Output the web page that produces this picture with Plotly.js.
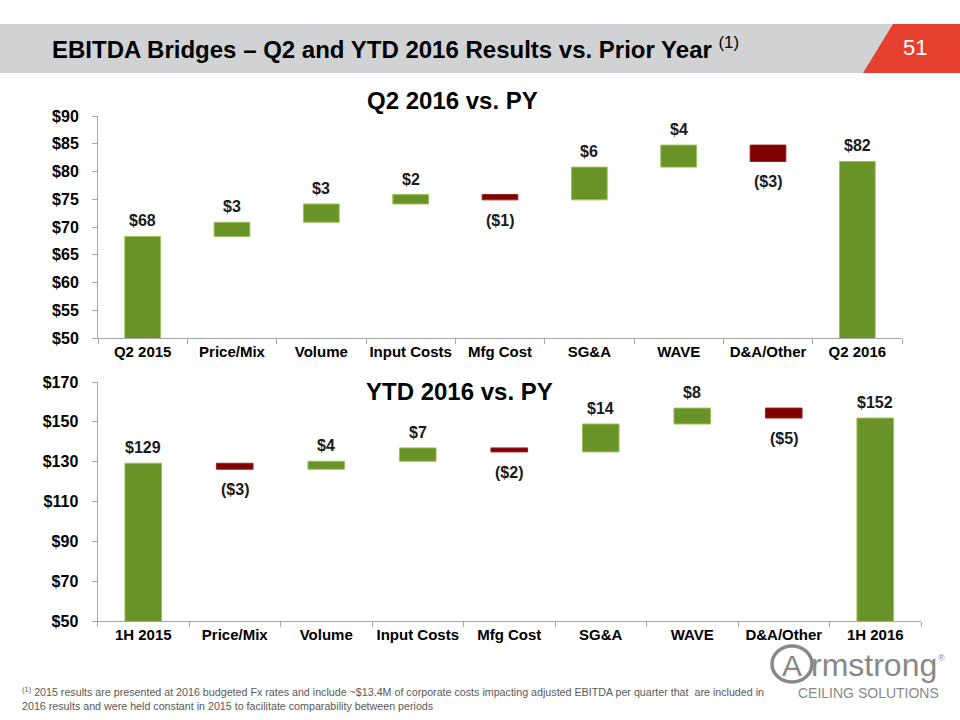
<!DOCTYPE html>
<html>
<head>
<meta charset="utf-8">
<script src="https://cdn.plot.ly/plotly-3.0.1.min.js"></script>
<style>
html,body{margin:0;padding:0;background:#fff;}
#chart{width:960px;height:720px;}
</style>
</head>
<body>
<div id="chart"></div>
<script>
// ---- Data ----
const q2Categories = ["Q2 2015","Price/Mix","Volume","Input Costs","Mfg Cost","SG&A","WAVE","D&A/Other","Q2 2016"];
const q2Values = [68.3, 2.55, 3.3, 1.7, -0.96, 5.9, 3.97, -2.95, 0];
const q2Measures = ["absolute","relative","relative","relative","relative","relative","relative","relative","total"];
const q2Labels = ["$68","$3","$3","$2","($1)","$6","$4","($3)","$82"];

const ytdCategories = ["1H 2015","Price/Mix","Volume","Input Costs","Mfg Cost","SG&A","WAVE","D&A/Other","1H 2016"];
const ytdValues = [129.2, -3, 4, 6.7, -2, 14, 8, -5, 0];
const ytdMeasures = ["absolute","relative","relative","relative","relative","relative","relative","relative","total"];
const ytdLabels = ["$129","($3)","$4","$7","($2)","$14","$8","($5)","$152"];

const q2YTicks = [50,55,60,65,70,75,80,85,90];
const q2YTickLabels = ["$50","$55","$60","$65","$70","$75","$80","$85","$90"];
const ytdYTicks = [50,70,90,110,130,150,170];
const ytdYTickLabels = ["$50","$70","$90","$110","$130","$150","$170"];

// ---- Styles ----
const FONT = "Liberation Sans, Arial, Helvetica, sans-serif";
const GREEN = "#6a9327";
const GREEN_LINE = "#9cc05a";
const RED = "#800000";
const AXIS = "#a6a6a6";
const LOGO = "#888888";

function wf(cats, vals, meas, xa, ya){
  return {
    type:"waterfall", x:cats, y:vals, measure:meas, xaxis:xa, yaxis:ya,
    connector:{visible:false},
    increasing:{marker:{color:GREEN, line:{color:GREEN_LINE, width:1}}},
    decreasing:{marker:{color:RED, line:{color:"#9a2020", width:1}}},
    totals:{marker:{color:GREEN, line:{color:GREEN_LINE, width:1}}},
    width:0.4, hoverinfo:"skip", showlegend:false, textinfo:"none"
  };
}

function labelAnns(cats, vals, meas, labels, xref, yref){
  const anns = [];
  let cum = 0;
  for (let i=0;i<cats.length;i++){
    let lo, hi, neg=false;
    if (meas[i]==="absolute"){ cum = vals[i]; lo=0; hi=cum; }
    else if (meas[i]==="total"){ lo=0; hi=cum; }
    else { const s=cum; cum+=vals[i]; lo=Math.min(s,cum); hi=Math.max(s,cum); neg = vals[i]<0; }
    anns.push({
      xref:xref, yref:yref, x:cats[i], y: neg?lo:hi,
      text:"<b>"+labels[i]+"</b>", showarrow:false,
      yanchor: neg?"top":"bottom", yshift: neg?-10:5,
      font:{family:FONT, size:16, color:"#1a1a1a"}
    });
  }
  return anns;
}

function yFrac(px){ return 1 - px/720; }
function xFrac(px){ return px/960; }

const axisCommon = {
  showgrid:false, zeroline:false, showline:true, linecolor:AXIS, linewidth:1,
  ticks:"outside", tickcolor:AXIS, ticklen:5, tickangle:0,
  tickfont:{family:FONT, size:15, color:"#000", weight:"bold"}
};

const layout = {
  width:960, height:720,
  margin:{l:0,r:0,t:0,b:0},
  paper_bgcolor:"#fff", plot_bgcolor:"rgba(0,0,0,0)",
  font:{family:FONT},
  xaxis: Object.assign({}, axisCommon, {
    domain:[xFrac(98), xFrac(902)], anchor:"y", type:"category", tickson:"boundaries",
    categoryorder:"array", categoryarray:q2Categories
  }),
  yaxis: Object.assign({}, axisCommon, {
    domain:[yFrac(338), yFrac(116)], anchor:"x", range:[50,90],
    tickmode:"array", tickvals:q2YTicks, ticktext:q2YTickLabels,
    ticklabelstandoff:10, tickfont:{family:FONT, size:16, color:"#000", weight:"bold"}
  }),
  xaxis2: Object.assign({}, axisCommon, {
    domain:[xFrac(97.5), xFrac(921)], anchor:"y2", type:"category", tickson:"boundaries",
    categoryorder:"array", categoryarray:ytdCategories
  }),
  yaxis2: Object.assign({}, axisCommon, {
    domain:[yFrac(621), yFrac(382)], anchor:"x2", range:[50,170],
    tickmode:"array", tickvals:ytdYTicks, ticktext:ytdYTickLabels,
    ticklabelstandoff:10, tickfont:{family:FONT, size:16, color:"#000", weight:"bold"}
  }),
  shapes:[
    {type:"rect", xref:"paper", yref:"paper", x0:0, x1:1, y0:yFrac(73), y1:yFrac(24),
     fillcolor:"#d1d2d4", line:{width:0}, layer:"below"},
    {type:"path", xref:"paper", yref:"paper",
     path:"M "+xFrac(893)+","+yFrac(24)+" L 1,"+yFrac(24)+" L 1,"+yFrac(73)+" L "+xFrac(863)+","+yFrac(73)+" Z",
     fillcolor:"#e6412f", line:{width:0}, layer:"below"},
    {type:"circle", xref:"paper", yref:"paper", x0:xFrac(772), x1:xFrac(812), y0:yFrac(682), y1:yFrac(646),
     line:{color:LOGO, width:3.5}, fillcolor:"rgba(0,0,0,0)"}
  ],
  annotations:[
    {xref:"paper", yref:"paper", x:xFrac(50), y:yFrac(48), xanchor:"left", yanchor:"middle", showarrow:false,
     text:"<b>EBITDA Bridges – Q2 and YTD 2016 Results vs. Prior Year</b> <sup>(1)</sup>",
     font:{family:FONT, size:24, color:"#000"}},
    {xref:"paper", yref:"paper", x:xFrac(915), y:yFrac(48), xanchor:"center", yanchor:"middle", showarrow:false,
     text:"51", font:{family:FONT, size:22, color:"#fff"}},
    {xref:"paper", yref:"paper", x:xFrac(452), y:yFrac(101), xanchor:"center", yanchor:"middle", showarrow:false,
     text:"<b>Q2 2016 vs. PY</b>", font:{family:FONT, size:24, color:"#000"}},
    {xref:"paper", yref:"paper", x:xFrac(459), y:yFrac(392), xanchor:"center", yanchor:"middle", showarrow:false,
     text:"<b>YTD 2016 vs. PY</b>", font:{family:FONT, size:24, color:"#000"}},
    {xref:"paper", yref:"paper", x:xFrac(20), y:yFrac(683), xanchor:"left", yanchor:"top", showarrow:false, align:"left",
     text:"<sup>(1)</sup> 2015 results are presented at 2016 budgeted Fx rates and include ~$13.4M of corporate costs impacting adjusted EBITDA per quarter that  are included in<br>2016 results and were held constant in 2015 to facilitate comparability between periods",
     font:{family:FONT, size:10.7, color:"#595959"}},
    {xref:"paper", yref:"paper", x:xFrac(792), y:yFrac(665), xanchor:"center", yanchor:"middle", showarrow:false,
     text:"A", font:{family:FONT, size:30, color:LOGO}},
    {xref:"paper", yref:"paper", x:xFrac(809), y:yFrac(665), xanchor:"left", yanchor:"middle", showarrow:false,
     text:"rmstrong", font:{family:FONT, size:32, color:LOGO}},
    {xref:"paper", yref:"paper", x:xFrac(941), y:yFrac(658), xanchor:"center", yanchor:"middle", showarrow:false,
     text:"®", font:{family:FONT, size:9, color:LOGO}},
    {xref:"paper", yref:"paper", x:xFrac(868), y:yFrac(693), xanchor:"center", yanchor:"middle", showarrow:false,
     text:"CEILING SOLUTIONS", font:{family:FONT, size:14, color:LOGO}}
  ].concat(labelAnns(q2Categories, q2Values, q2Measures, q2Labels, "x", "y"))
   .concat(labelAnns(ytdCategories, ytdValues, ytdMeasures, ytdLabels, "x2", "y2"))
};

const data = [
  wf(q2Categories, q2Values, q2Measures, "x", "y"),
  wf(ytdCategories, ytdValues, ytdMeasures, "x2", "y2")
];

Plotly.newPlot("chart", data, layout, {displayModeBar:false, staticPlot:true});
</script>
</body>
</html>
